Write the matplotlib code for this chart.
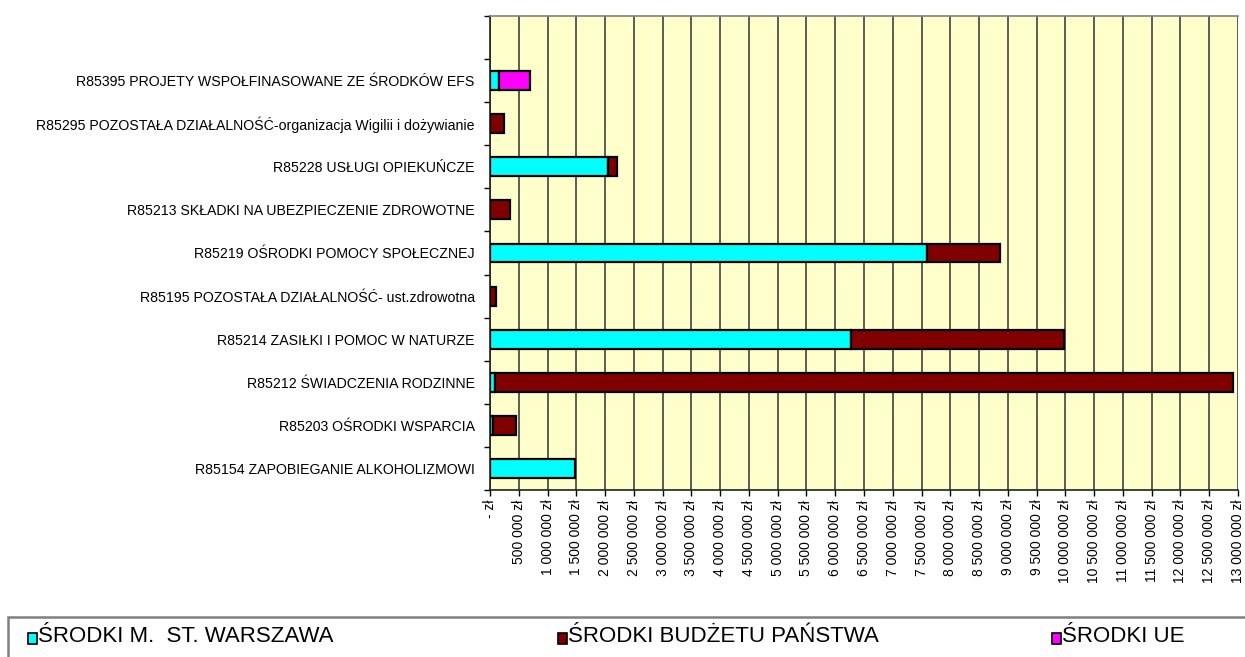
import numpy as np
import matplotlib
matplotlib.use("Agg")
import matplotlib.pyplot as plt
from matplotlib.patches import Rectangle

plt.rcParams['font.family'] = ['Liberation Sans', 'DejaVu Sans']

# categories, bottom to top (top slot of the chart is left empty)
categories = [
    "R85154 ZAPOBIEGANIE ALKOHOLIZMOWI",
    "R85203 OŚRODKI WSPARCIA",
    "R85212 ŚWIADCZENIA RODZINNE",
    "R85214 ZASIŁKI I POMOC W NATURZE",
    "R85195 POZOSTAŁA DZIAŁALNOŚĆ- ust.zdrowotna",
    "R85219 OŚRODKI POMOCY SPOŁECZNEJ",
    "R85213 SKŁADKI NA UBEZPIECZENIE ZDROWOTNE",
    "R85228 USŁUGI OPIEKUŃCZE",
    "R85295 POZOSTAŁA DZIAŁALNOŚĆ-organizacja Wigilii i dożywianie",
    "R85395 PROJETY WSPOŁFINASOWANE ZE ŚRODKÓW EFS",
]
srodki_warszawa = [1475000, 52000, 79000, 6280000, 0, 7590000, 0, 2054000, 0, 155000]
srodki_budzet = [0, 396000, 12830000, 3690000, 98000, 1280000, 344000, 150000, 241000, 0]
srodki_ue = [0, 0, 0, 0, 0, 0, 0, 0, 0, 534000]

series_names = ["ŚRODKI M.  ST. WARSZAWA", "ŚRODKI BUDŻETU PAŃSTWA", "ŚRODKI UE"]
series_colors = ["#00FFFF", "#800000", "#FF00FF"]
x_ticks = np.arange(0, 13000001, 500000)

fig = plt.figure(figsize=(12.45, 6.57), dpi=100)
ax = fig.add_axes([490 / 1245, 1 - 490 / 657, 748 / 1245, 474 / 657])
ax.set_facecolor("#FFFFCC")

y = np.arange(len(categories))
left = np.zeros(len(categories))
for vals, color in zip([srodki_warszawa, srodki_budzet, srodki_ue], series_colors):
    vals = np.array(vals, dtype=float)
    mask = vals > 0
    ax.barh(y[mask], vals[mask], left=left[mask], height=0.44, color=color,
            edgecolor="black", linewidth=1.6, zorder=3)
    left += vals

ax.set_xlim(0, 13000000)
ax.set_ylim(-0.5, len(categories) + 0.5)

ax.set_xticks(x_ticks)
ax.set_xticklabels(["- zł" if v == 0 else f"{v:,.0f}".replace(",", " ") + " zł" for v in x_ticks],
                   rotation=90, fontsize=10)
ax.tick_params(axis="x", direction="out", length=4, width=1, pad=3)
ax.grid(axis="x", color="#303030", linewidth=1.1, zorder=1)

ax.set_yticks(y)
ax.set_yticklabels(categories, fontsize=10.2)
ax.set_yticks(np.arange(-0.5, len(categories) + 1), minor=True)
ax.tick_params(axis="y", which="major", length=0, pad=11)
ax.tick_params(axis="y", which="minor", direction="out", length=4, width=1)

ax.spines["left"].set_color("#202020")
ax.spines["bottom"].set_color("#202020")
ax.spines["top"].set_color("#808080")
ax.spines["right"].set_visible(False)
for s in ax.spines.values():
    s.set_linewidth(1.2)

# legend box at the bottom of the figure
fig.patches.append(Rectangle((8 / 1245, -0.05), 1.05, (657 - 617) / 657 + 0.05,
                             transform=fig.transFigure, facecolor="white",
                             edgecolor="#808080", linewidth=1.8))
legend_x = [28, 558, 1052]
for name, color, lx in zip(series_names, series_colors, legend_x):
    fig.patches.append(Rectangle((lx / 1245, 1 - 644 / 657), 9 / 1245, 11 / 657,
                                 transform=fig.transFigure, facecolor=color,
                                 edgecolor="black", linewidth=1.2))
    fig.text((lx + 10) / 1245, 1 - 637 / 657, name, fontsize=16, va="center", ha="left")

fig.savefig("out.png", dpi=100)
